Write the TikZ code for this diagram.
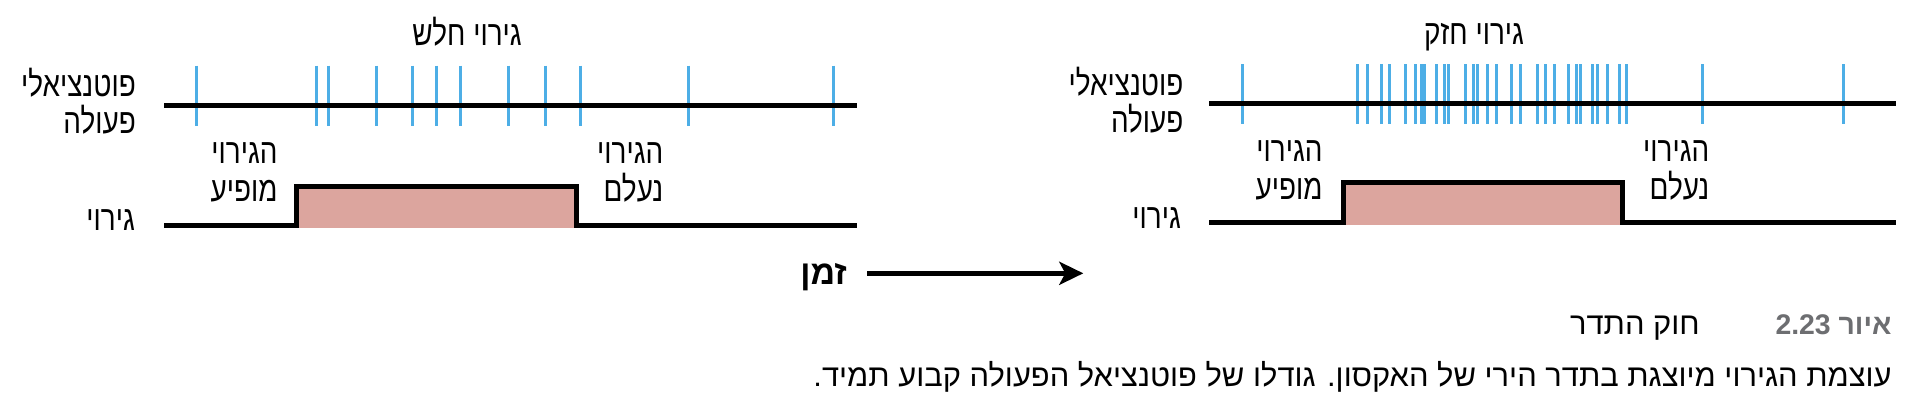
\documentclass[tikz,border=0pt]{standalone}
\usepackage{fontspec}
\setmainfont{Liberation Sans}
\newfontfamily\hebfont[Script=Hebrew]{Liberation Sans}
\newfontfamily\hebnarrow[Script=Hebrew,FakeStretch=0.8]{Liberation Sans}
\TeXXeTstate=1
\usetikzlibrary{arrows.meta}
\definecolor{spikecol}{RGB}{77,174,230}
\definecolor{stimcol}{RGB}{220,165,158}
\definecolor{figcol}{RGB}{109,110,113}
\newcommand{\heb}[1]{\beginR #1\endR}
\tikzset{
  spike/.style={spikecol,line width=3bp},
  axisline/.style={black,line width=5bp},
  stepline/.style={black,line width=5bp},
  lbl/.style={inner sep=0pt,text height=24bp,text depth=5bp,font=\hebnarrow\fontsize{35}{35}\selectfont},
  caplbl/.style={inner sep=0pt,text height=20bp,text depth=5bp,font=\hebfont\fontsize{31}{31}\selectfont},
}
\begin{document}
\begin{tikzpicture}[x=1bp,y=-1bp,line join=miter]
\useasboundingbox (0,0) rectangle (1920,416);
%%
% Node: weak stimulus (left panel)
\begin{scope}
  \node[lbl,anchor=base] (weaktitle) at (467,45) {\heb{גירוי חלש}};
  \node[lbl,anchor=base east] (apweak1) at (136,96.7) {\heb{פוטנציאלי}};
  \node[lbl,anchor=base east] (apweak2) at (136,133.3) {\heb{פעולה}};
  \node[lbl,anchor=base east] (stimweak) at (135,230) {\heb{גירוי}};
  \node[lbl,anchor=base east] (onweak1) at (277.8,163) {\heb{הגירוי}};
  \node[lbl,anchor=base east] (onweak2) at (277.8,201) {\heb{מופיע}};
  \node[lbl,anchor=base east] (offweak1) at (663.5,163) {\heb{הגירוי}};
  \node[lbl,anchor=base east] (offweak2) at (663.5,201) {\heb{נעלם}};
  % spikes
  \foreach \x in {196.5,316.8,328.3,376.5,412.3,436.2,460.5,508.3,545,580.8,688.7,833}
    \draw[spike] (\x,65.7) -- (\x,125.7);
  \draw[axisline] (164,105.3) -- (857,105.3);
  % stimulus step
  \fill[stimcol] (296,186) rectangle (576,227.5);
  \draw[stepline] (164,225.3) -- (296,225.3) -- (296,186) -- (576,186) -- (576,225.3) -- (857,225.3);
\end{scope}
% Node: strong stimulus (right panel)
\begin{scope}
  \node[lbl,anchor=base] (strongtitle) at (1474,44) {\heb{גירוי חזק}};
  \node[lbl,anchor=base east] (apstrong1) at (1183.6,95.2) {\heb{פוטנציאלי}};
  \node[lbl,anchor=base east] (apstrong2) at (1183.6,132) {\heb{פעולה}};
  \node[lbl,anchor=base east] (stimstrong) at (1181,228) {\heb{גירוי}};
  \node[lbl,anchor=base east] (onstrong1) at (1322.7,161.5) {\heb{הגירוי}};
  \node[lbl,anchor=base east] (onstrong2) at (1322.7,199.5) {\heb{מופיע}};
  \node[lbl,anchor=base east] (offstrong1) at (1709.5,161.5) {\heb{הגירוי}};
  \node[lbl,anchor=base east] (offstrong2) at (1709.5,199.5) {\heb{נעלם}};
  % spikes
  \foreach \x in {1242.4,1357.3,1367,1381.7,1389,1405.3,1415.3,1421.5,1424.5,1436.7,
      1444,1448.7,1465.7,1473,1477,1487.3,1496.7,1511.3,1520.7,1537.7,1545.3,1554.3,
      1568.7,1576,1580.7,1592.7,1597.3,1607.3,1619.3,1626.3,1702,1843}
    \draw[spike] (\x,64.3) -- (\x,123.7);
  \draw[axisline] (1209,103.5) -- (1896,103.5);
  % stimulus step
  \fill[stimcol] (1343,182.5) rectangle (1622.5,225);
  \draw[stepline] (1209,222.9) -- (1343,222.9) -- (1343,182.5) -- (1622.5,182.5) -- (1622.5,222.9) -- (1896,222.9);
\end{scope}
% Edge: time axis
\node[inner sep=0pt,anchor=base east,font=\hebfont\bfseries\fontsize{34}{34}\selectfont] (time) at (847,284) {\heb{זמן}};
\coordinate (tstart) at (867,273.3);
\coordinate (tend) at (1083.3,273.3);
\draw[line width=4.5bp,-{Stealth[length=24bp,width=23bp,inset=6bp]}] (tstart) -- (tend);
% Node: caption
\node[caplbl,anchor=base east,font=\hebfont\bfseries\fontsize{28.5}{28.5}\selectfont,text=figcol] (fignum) at (1891.7,334.3) {\heb{איור \beginL 2.23\endL}};
\node[caplbl,anchor=base east] (figtitle) at (1700,334.3) {\heb{חוק התדר}};
\node[caplbl,anchor=base east] (figtext) at (1891.7,386) {\heb{עוצמת הגירוי מיוצגת בתדר הירי של האקסון. גודלו של פוטנציאל הפעולה קבוע תמיד.}};
%
\end{tikzpicture}
\end{document}
